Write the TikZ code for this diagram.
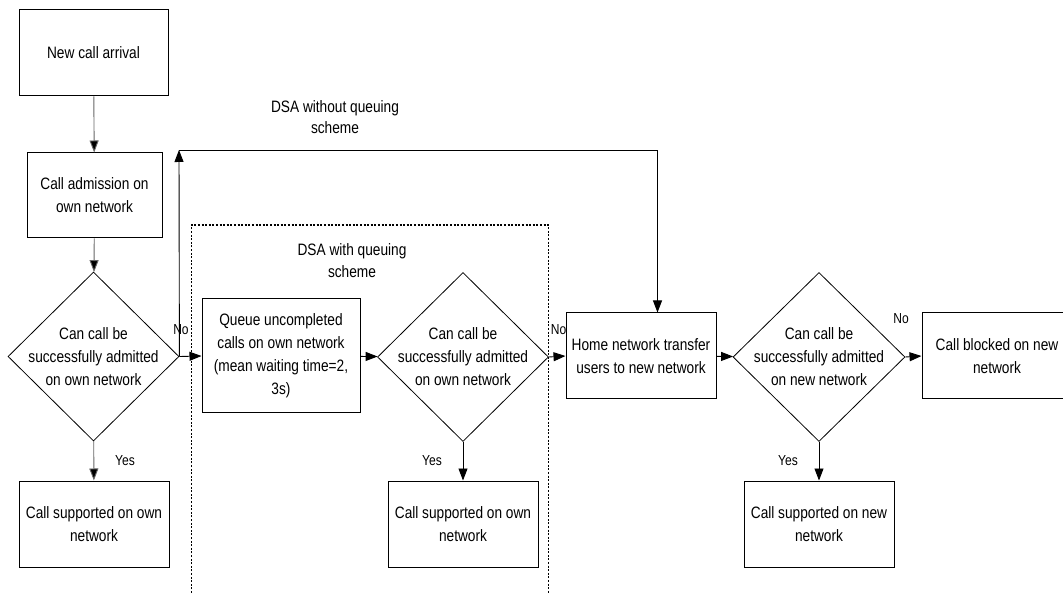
\documentclass[tikz,border=0pt]{standalone}
\usepackage{fontspec}
\setmainfont[FakeStretch=0.83]{Liberation Sans}
\usetikzlibrary{shapes.geometric,arrows.meta}
\begin{document}
\begin{tikzpicture}[x=1pt,y=-1pt,
  font=\fontsize{16.5}{23}\selectfont,
  box/.style={draw, line width=1pt, minimum width=150pt, minimum height=86pt, align=center, inner sep=0pt},
  dia/.style={draw, diamond, shape aspect=1, line width=0.8pt, minimum width=171pt, minimum height=169pt, inner sep=0pt},
  txt/.style={align=center, inner sep=0pt},
  lbl/.style={font=\fontsize{14.5}{17}\selectfont, inner sep=0pt},
  arr/.style={-{Triangle[length=12pt,width=9pt]}, line width=0.9pt},
  garr/.style={arr, draw=black!60, -{Triangle[length=12pt,width=9pt,fill=black]}},
  frame/.style={line width=1.2pt, dash pattern=on 2pt off 1.6pt}
]
\useasboundingbox (0,0) rectangle (1063,593);

% frame of the queuing scheme
\draw[frame] (191.5,593) -- (191.5,225) -- (548.5,225) -- (548.5,593);

% nodes
\node[box, minimum width=149pt] (n1) at (93.5,53) {New call arrival};
\node[box, minimum width=135pt, minimum height=85pt] (n2) at (94.5,195.5) {Call admission on\\own network};
\node[dia] (d1) at (93.5,356.5) {};
\node[txt] (d1t) at (d1) {Can call be\\successfully admitted\\on own network};
\node[box] (n3) at (94,524) {Call supported on own\\network};
\node[box, minimum width=158pt, minimum height=114pt] (q) at (281,356) {Queue uncompleted\\calls on own network\\(mean waiting time=2,\\3s)};
\node[dia] (d2) at (463,357) {};
\node[txt] (d2t) at (d2) {Can call be\\successfully admitted\\on own network};
\node[box] (n5) at (463,524) {Call supported on own\\network};
\node[box] (h) at (641,356) {Home network transfer\\users to new network};
\node[dia, minimum width=172pt] (d3) at (819,357) {};
\node[txt] (d3t) at (d3) {Can call be\\successfully admitted\\on new network};
\node[box] (n6) at (819,524) {Call supported on new\\network};
\node[box] (b) at (997,356) {Call blocked on new\\network};

\node[txt, font=\fontsize{16.5}{21}\selectfont] (dsa1) at (335,117) {DSA without queuing\\scheme};
\node[txt, font=\fontsize{16.5}{22}\selectfont] (dsa2) at (352,261) {DSA with queuing\\scheme};

\coordinate (c1) at (179,150);
\coordinate (c2) at (657.5,150);

% connectors
\draw[garr] (n1) -- (n2);
\draw[garr] (n2) -- (d1);
\draw[garr] (d1) -- (n3);
\draw[arr] (d1.east) -- (q.west);
\draw[arr] (d1.east) -- (c1);
\draw[arr] (c1) -- (c2) -- (c2 |- h.north);
\draw[arr] (q) -- (d2);
\draw[arr] (d2) -- (n5);
\draw[arr] (d2.east) -- (h.west);
\draw[arr] (h) -- (d3);
\draw[arr] (d3) -- (n6);
\draw[arr] (d3.east) -- (b.west);

% labels
\node[lbl] (no1) at (181,330) {No};
\node[lbl] (no2) at (558.5,330) {No};
\node[lbl] (no3) at (901,319) {No};
\node[lbl] (y1) at (125,461) {Yes};
\node[lbl] (y2) at (432,461) {Yes};
\node[lbl] (y3) at (788,461) {Yes};
\end{tikzpicture}
\end{document}
